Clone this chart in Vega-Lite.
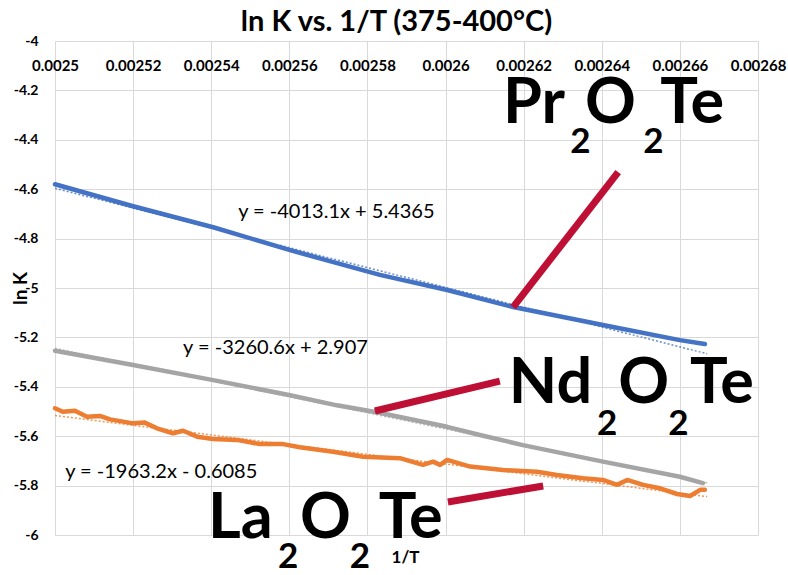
{
  "$schema": "https://vega.github.io/schema/vega-lite/v6.json",
  "autosize": "none",
  "width": 703,
  "height": 494,
  "padding": {"left": 55, "top": 41, "right": 30, "bottom": 40},
  "background": "white",
  "config": {
    "view": {"stroke": null},
    "font": "Lato"
  },
  "title": {
    "text": "ln K vs. 1/T (375-400°C)",
    "font": "Lato",
    "fontSize": 29,
    "fontWeight": "bold",
    "color": "#000000",
    "anchor": "middle",
    "dx": -10,
    "dy": 3,
    "offset": 0
  },
  "datasets": {
    "series": [
      {"s": "Pr", "x": 0.0025, "y": -4.58},
      {"s": "Pr", "x": 0.00252, "y": -4.669},
      {"s": "Pr", "x": 0.0025405, "y": -4.754},
      {"s": "Pr", "x": 0.0025602, "y": -4.847},
      {"s": "Pr", "x": 0.0025832, "y": -4.947},
      {"s": "Pr", "x": 0.0026004, "y": -5.008},
      {"s": "Pr", "x": 0.0026173, "y": -5.077},
      {"s": "Pr", "x": 0.0026403, "y": -5.15},
      {"s": "Pr", "x": 0.00266, "y": -5.211},
      {"s": "Pr", "x": 0.0026664, "y": -5.227},
      {"s": "Nd", "x": 0.0025, "y": -5.254},
      {"s": "Nd", "x": 0.00252, "y": -5.312},
      {"s": "Nd", "x": 0.0025405, "y": -5.373},
      {"s": "Nd", "x": 0.0025602, "y": -5.434},
      {"s": "Nd", "x": 0.0025722, "y": -5.475},
      {"s": "Nd", "x": 0.0025824, "y": -5.503},
      {"s": "Nd", "x": 0.0026004, "y": -5.562},
      {"s": "Nd", "x": 0.0026088, "y": -5.595},
      {"s": "Nd", "x": 0.0026198, "y": -5.636},
      {"s": "Nd", "x": 0.0026403, "y": -5.703},
      {"s": "Nd", "x": 0.00266, "y": -5.764},
      {"s": "Nd", "x": 0.0026659, "y": -5.79},
      {"s": "La", "x": 0.0025, "y": -5.487},
      {"s": "La", "x": 0.002502, "y": -5.501},
      {"s": "La", "x": 0.0025051, "y": -5.497},
      {"s": "La", "x": 0.0025082, "y": -5.521},
      {"s": "La", "x": 0.0025115, "y": -5.518},
      {"s": "La", "x": 0.0025141, "y": -5.532},
      {"s": "La", "x": 0.00252, "y": -5.548},
      {"s": "La", "x": 0.002523, "y": -5.545},
      {"s": "La", "x": 0.0025261, "y": -5.568},
      {"s": "La", "x": 0.0025302, "y": -5.588},
      {"s": "La", "x": 0.0025328, "y": -5.578},
      {"s": "La", "x": 0.0025364, "y": -5.602},
      {"s": "La", "x": 0.0025405, "y": -5.611},
      {"s": "La", "x": 0.0025466, "y": -5.615},
      {"s": "La", "x": 0.0025525, "y": -5.632},
      {"s": "La", "x": 0.0025584, "y": -5.632},
      {"s": "La", "x": 0.0025627, "y": -5.645},
      {"s": "La", "x": 0.0025712, "y": -5.663},
      {"s": "La", "x": 0.0025789, "y": -5.683},
      {"s": "La", "x": 0.0025883, "y": -5.689},
      {"s": "La", "x": 0.0025942, "y": -5.716},
      {"s": "La", "x": 0.0025968, "y": -5.703},
      {"s": "La", "x": 0.0025986, "y": -5.716},
      {"s": "La", "x": 0.0026004, "y": -5.696},
      {"s": "La", "x": 0.0026063, "y": -5.723},
      {"s": "La", "x": 0.0026147, "y": -5.737},
      {"s": "La", "x": 0.0026234, "y": -5.744},
      {"s": "La", "x": 0.0026285, "y": -5.757},
      {"s": "La", "x": 0.0026352, "y": -5.77},
      {"s": "La", "x": 0.0026403, "y": -5.777},
      {"s": "La", "x": 0.0026439, "y": -5.797},
      {"s": "La", "x": 0.0026465, "y": -5.777},
      {"s": "La", "x": 0.0026506, "y": -5.797},
      {"s": "La", "x": 0.0026549, "y": -5.811},
      {"s": "La", "x": 0.0026593, "y": -5.834},
      {"s": "La", "x": 0.0026626, "y": -5.842},
      {"s": "La", "x": 0.0026652, "y": -5.817},
      {"s": "La", "x": 0.0026664, "y": -5.817}
    ],
    "trend": [
      {"s": "Pr", "x": 0.0025, "y": -4.5963},
      {"s": "Pr", "x": 0.002667, "y": -5.2664},
      {"s": "Nd", "x": 0.0025, "y": -5.2445},
      {"s": "Nd", "x": 0.002667, "y": -5.789},
      {"s": "La", "x": 0.0025, "y": -5.5165},
      {"s": "La", "x": 0.002667, "y": -5.8444}
    ],
    "equations": [
      {"x": 0.0025469, "y": -4.693, "label": "y = -4013.1x + 5.4365"},
      {"x": 0.0025328, "y": -5.243, "label": "y = -3260.6x + 2.907"},
      {"x": 0.0025026, "y": -5.745, "label": "y = -1963.2x - 0.6085"}
    ],
    "callouts": [
      {"x": 0.0026173, "y": -5.0773, "x2": 0.0026442, "y2": -4.5312},
      {"x": 0.0025819, "y": -5.498, "x2": 0.0026139, "y2": -5.3767},
      {"x": 0.0026006, "y": -5.8661, "x2": 0.002625, "y2": -5.8014}
    ],
    "formulaParts": [
      {"x": 0.0026147, "y": -4.333, "t": "Pr"},
      {"x": 0.0026357, "y": -4.333, "t": "O"},
      {"x": 0.002655, "y": -4.333, "t": "Te"},
      {"x": 0.0026162, "y": -5.4656, "t": "Nd"},
      {"x": 0.0026442, "y": -5.4656, "t": "O"},
      {"x": 0.0026626, "y": -5.4656, "t": "Te"},
      {"x": 0.0025392, "y": -6.0118, "t": "La"},
      {"x": 0.0025627, "y": -6.0118, "t": "O"},
      {"x": 0.0025829, "y": -6.0118, "t": "Te"}
    ],
    "subscripts": [
      {"x": 0.0026319, "y": -4.454, "t": "2"},
      {"x": 0.0026506, "y": -4.454, "t": "2"},
      {"x": 0.0026388, "y": -5.595, "t": "2"},
      {"x": 0.002657, "y": -5.595, "t": "2"},
      {"x": 0.0025571, "y": -6.1332, "t": "2"},
      {"x": 0.0025755, "y": -6.1332, "t": "2"}
    ]
  },
  "encoding": {
    "x": {
      "field": "x",
      "type": "quantitative",
      "scale": {"domain": [0.0025, 0.00268], "nice": false, "zero": false},
      "axis": {
        "orient": "top",
        "values": [0.0025, 0.00252, 0.00254, 0.00256, 0.00258, 0.0026, 0.00262, 0.00264, 0.00266, 0.00268],
        "labelExpr": "toString(datum.value)",
        "labelFont": "Lato",
        "labelFontSize": 15,
        "labelFontWeight": "bold",
        "labelColor": "#000000",
        "labelBaseline": "top",
        "labelPadding": -17,
        "labelOverlap": false,
        "labelFlush": false,
        "ticks": false,
        "tickSize": 0,
        "domain": false,
        "grid": true,
        "gridColor": "#d9d9d9",
        "gridWidth": 1,
        "title": "1/T",
        "titleFont": "Lato",
        "titleFontSize": 17,
        "titleFontWeight": "bold",
        "titleColor": "#000000",
        "titleX": 350,
        "titleY": 516,
        "titleAlign": "center",
        "titleBaseline": "middle"
      }
    },
    "y": {
      "field": "y",
      "type": "quantitative",
      "scale": {"domain": [-6, -4], "nice": false, "zero": false},
      "axis": {
        "values": [-6, -5.8, -5.6, -5.4, -5.2, -5, -4.8, -4.6, -4.4, -4.2, -4],
        "labelExpr": "toString(datum.value)",
        "labelFont": "Lato",
        "labelFontSize": 14,
        "labelFontWeight": "bold",
        "labelColor": "#000000",
        "labelPadding": 17,
        "labelOverlap": false,
        "labelFlush": false,
        "ticks": false,
        "tickSize": 0,
        "domain": false,
        "grid": true,
        "gridColor": "#d9d9d9",
        "gridWidth": 1,
        "title": "ln K",
        "titleFont": "Lato",
        "titleFontSize": 19,
        "titleFontWeight": "bold",
        "titleColor": "#000000",
        "titleX": -35,
        "titleY": 247,
        "titleAngle": -90,
        "titleAlign": "center",
        "titleBaseline": "middle"
      }
    }
  },
  "layer": [
    {
      "data": {"name": "series"},
      "mark": {"type": "line", "strokeWidth": 4.5, "strokeJoin": "round", "strokeCap": "round"},
      "encoding": {
        "color": {
          "field": "s",
          "type": "nominal",
          "scale": {"domain": ["Pr", "Nd", "La"], "range": ["#4472C4", "#A5A5A5", "#ED7D31"]},
          "legend": null
        }
      }
    },
    {
      "data": {"name": "trend"},
      "mark": {"type": "line", "strokeWidth": 1.5, "strokeDash": [2, 2], "opacity": 0.8},
      "encoding": {
        "color": {
          "field": "s",
          "type": "nominal",
          "scale": {"domain": ["Pr", "Nd", "La"], "range": ["#4472C4", "#A5A5A5", "#ED7D31"]},
          "legend": null
        }
      }
    },
    {
      "data": {"name": "equations"},
      "mark": {"type": "text", "align": "left", "baseline": "middle", "font": "Lato", "fontSize": 20, "color": "#000000"},
      "encoding": {"text": {"field": "label"}}
    },
    {
      "data": {"name": "callouts"},
      "mark": {"type": "rule", "strokeWidth": 7, "strokeCap": "butt", "color": "#BE1034"},
      "encoding": {
        "x2": {"field": "x2"},
        "y2": {"field": "y2"}
      }
    },
    {
      "data": {"name": "formulaParts"},
      "mark": {"type": "text", "align": "left", "baseline": "alphabetic", "font": "Lato", "fontSize": 63, "fontWeight": "bold", "color": "#000000"},
      "encoding": {"text": {"field": "t"}}
    },
    {
      "data": {"name": "subscripts"},
      "mark": {"type": "text", "align": "left", "baseline": "alphabetic", "font": "Lato", "fontSize": 35, "fontWeight": "bold", "color": "#000000"},
      "encoding": {"text": {"field": "t"}}
    }
  ]
}
